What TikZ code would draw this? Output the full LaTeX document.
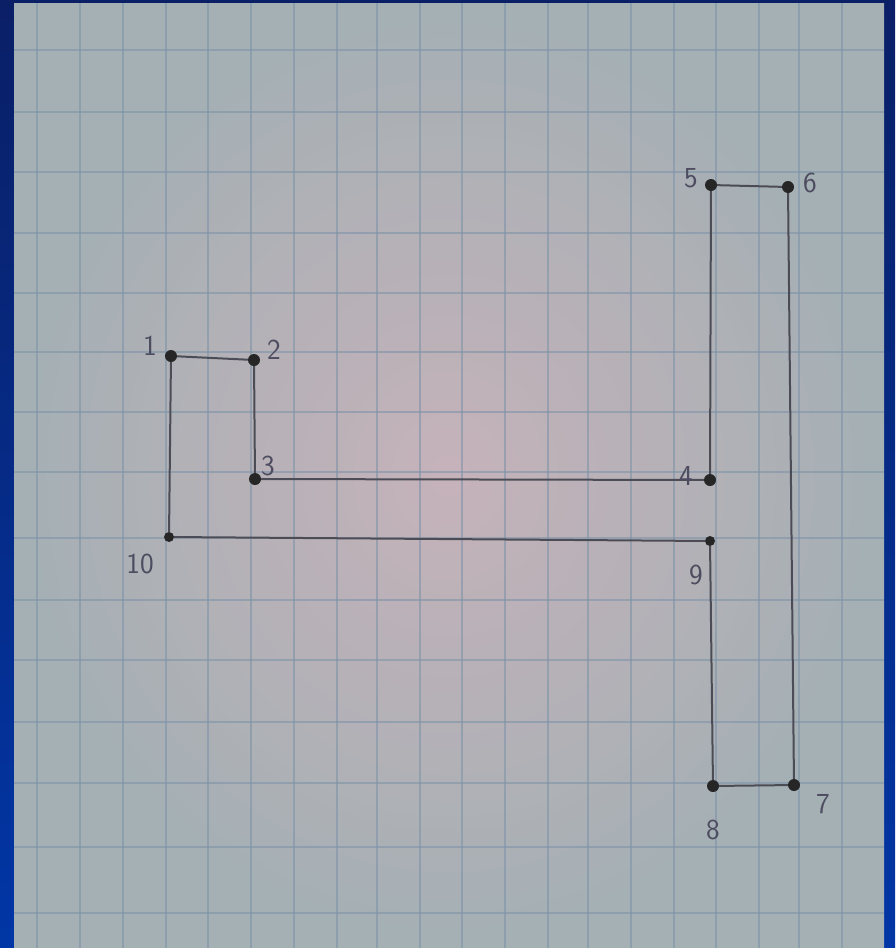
\documentclass[tikz,border=0pt]{standalone}
\usepackage{fontspec}
\usetikzlibrary{positioning}
\definecolor{bordtop}{HTML}{0A1F66}
\definecolor{bordbot}{HTML}{0136A6}
\definecolor{paperin}{HTML}{C6B2BA}
\definecolor{paperout}{HTML}{A4B0B4}
\definecolor{gridln}{HTML}{7F93A8}
\definecolor{penln}{HTML}{4C4C56}
\definecolor{penink}{HTML}{4E4C60}
\tikzset{
  gridline/.style={draw=gridln, line width=2.2pt, opacity=0.6},
  edgeln/.style={draw=penln, line width=2pt},
  dotpt/.style={circle, fill=black!85, inner sep=0pt, minimum size=12pt},
  numlbl/.style={text=penink, inner sep=0pt, font=\sffamily\fontsize{29}{32}\selectfont}}

\begin{document}
\begin{tikzpicture}[x=1pt, y=-1pt]
    \useasboundingbox (0,0) rectangle (895,948);
    % blue slide background and the photographed sheet
    \shade[top color=bordtop, bottom color=bordbot] (0,0) rectangle (895,948);
    \shade[inner color=paperin, outer color=paperout] (14,3) rectangle (884,948);
    \foreach \gx in {37,80,123,166,208,251,294,337,377,420,462,505,548,588,631,674,716,759,799,842}
      \draw[gridline] (\gx,3) -- (\gx,948);
    \foreach \gy in {50,112,172,233,293,352,412,472,538,600,660,722,783,847,913}
      \draw[gridline] (14,\gy) -- (884,\gy);
    % the points
    \node[dotpt] (p1) at (171,356) {};
    \node[dotpt] (p2) at (254,360) {};
    \node[dotpt] (p3) at (255,479) {};
    \node[dotpt] (p4) at (710,480) {};
    \node[dotpt] (p5) at (711,185) {};
    \node[dotpt] (p6) at (788,187) {};
    \node[dotpt] (p7) at (794,785) {};
    \node[dotpt] (p8) at (713,786) {};
    \node[dotpt, minimum size=10pt] (p9) at (710,541) {};
    \node[dotpt, minimum size=10pt] (p10) at (169,537) {};
    \draw[edgeln] (p1) -- (p2) -- (p3) -- (p4) -- (p5) -- (p6) -- (p7) -- (p8) -- (p9) -- (p10) -- (p1);
    % the numbers
    \node[numlbl] (l1) at (150,346) {1};
    \node[numlbl] (l2) at (274,350) {2};
    \node[numlbl] (l3) at (268,466) {3};
    \node[numlbl] (l4) at (686,476) {4};
    \node[numlbl] (l5) at (691,178) {5};
    \node[numlbl] (l6) at (810,183) {6};
    \node[numlbl] (l7) at (823,804) {7};
    \node[numlbl] (l8) at (713,830) {8};
    \node[numlbl] (l9) at (696,575) {9};
    \node[numlbl] (l10) at (140,564) {10};
  \end{tikzpicture}
\end{document}
